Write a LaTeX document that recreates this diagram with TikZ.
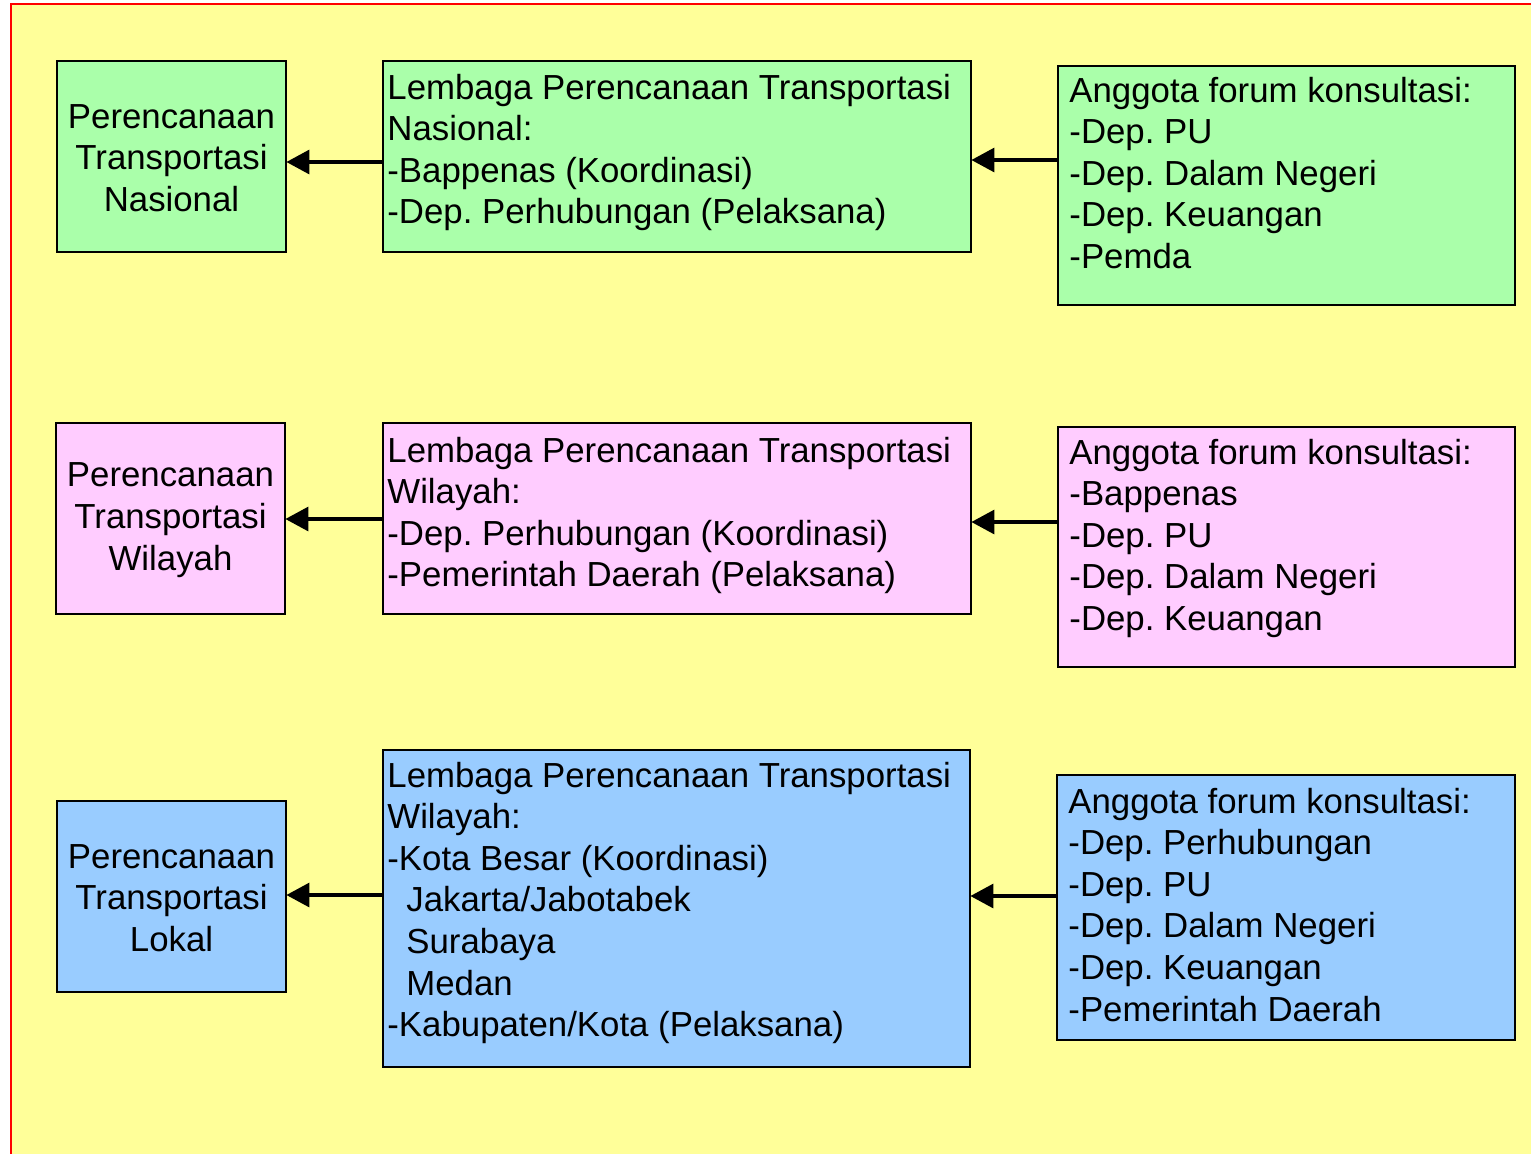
\documentclass[tikz,border=0pt]{standalone}
\usepackage{fontspec}
\setmainfont{Liberation Sans}
\usetikzlibrary{arrows.meta}
\frenchspacing
\definecolor{bgyellow}{HTML}{FFFF99}
\definecolor{bxgreen}{HTML}{AAFFAA}
\definecolor{bxpink}{HTML}{FFCCFF}
\definecolor{bxblue}{HTML}{99CCFF}
\tikzset{
  box/.style={draw=black, line width=1.2pt, inner sep=0pt},
  txt/.style={inner sep=0pt, align=left, anchor=north west, font=\fontsize{17.4pt}{20.8pt}\selectfont},
  ctxt/.style={inner sep=0pt, align=center, anchor=center, yshift=-0.8pt, font=\fontsize{17.4pt}{20.8pt}\selectfont},
  arr/.style={line width=1.6pt, -{Triangle[length=11.5pt,width=12pt]}}
}
\newcommand{\bx}[6]{% name, x1, y1, x2, y2, color
  \path[box, fill=#6] (#2,#3) rectangle (#4,#5);
  \node[inner sep=0pt, minimum width={(#4-#2)*0.5pt}, minimum height={(#5-#3)*0.5pt}] (#1) at ({(#2+#4)/2},{(#3+#5)/2}) {};
}
\begin{document}
\begin{tikzpicture}[x=0.5pt, y=-0.5pt]
\useasboundingbox (0,0) rectangle (1531,1153);
\fill[white] (0,0) rectangle (1531,1153);
\draw[red, line width=1.1pt, fill=bgyellow] (11,4) rectangle (1560,1180);

% row 1
\bx{a1}{57}{61}{286}{252}{bxgreen}
\bx{b1}{383}{61}{971}{252}{bxgreen}
\bx{c1}{1058}{66}{1515}{305}{bxgreen}
\node[ctxt] (ta1) at (a1) {Perencanaan\\Transportasi\\Nasional};
\node[txt] (tb1) at (387,73.5) {Lembaga Perencanaan Transportasi\\Nasional:\\-Bappenas (Koordinasi)\\-Dep. Perhubungan (Pelaksana)};
\node[txt] (tc1) at (1069,76.5) {Anggota forum konsultasi:\\-Dep. PU\\-Dep. Dalam Negeri\\-Dep. Keuangan\\-Pemda};

% row 2
\bx{a2}{56}{423}{285}{614}{bxpink}
\bx{b2}{383}{423}{971}{614}{bxpink}
\bx{c2}{1058}{427}{1515}{667}{bxpink}
\node[ctxt] (ta2) at (a2) {Perencanaan\\Transportasi\\Wilayah};
\node[txt] (tb2) at (387,436.5) {Lembaga Perencanaan Transportasi\\Wilayah:\\-Dep. Perhubungan (Koordinasi)\\-Pemerintah Daerah (Pelaksana)};
\node[txt] (tc2) at (1069,438.5) {Anggota forum konsultasi:\\-Bappenas\\-Dep. PU\\-Dep. Dalam Negeri\\-Dep. Keuangan};

% row 3
\bx{a3}{57}{801}{286}{992}{bxblue}
\bx{b3}{383}{750}{970}{1067}{bxblue}
\bx{c3}{1057}{775}{1515}{1040}{bxblue}
\node[ctxt] (ta3) at (a3) {Perencanaan\\Transportasi\\Lokal};
\node[txt] (tb3) at (387,761.5) {Lembaga Perencanaan Transportasi\\Wilayah:\\-Kota Besar (Koordinasi)\\\hspace*{9.5pt}Jakarta/Jabotabek\\\hspace*{9.5pt}Surabaya\\\hspace*{9.5pt}Medan\\-Kabupaten/Kota (Pelaksana)};
\node[txt] (tc3) at (1068,787.5) {Anggota forum konsultasi:\\-Dep. Perhubungan\\-Dep. PU\\-Dep. Dalam Negeri\\-Dep. Keuangan\\-Pemerintah Daerah};

% arrow levels
\coordinate (y1a) at (0,162);
\coordinate (y1b) at (0,160);
\coordinate (y2a) at (0,519);
\coordinate (y2b) at (0,522);
\coordinate (y3a) at (0,895);
\coordinate (y3b) at (0,896);

\draw[arr] (b1.west |- y1a) -- (a1.east |- y1a);
\draw[arr] (c1.west |- y1b) -- (b1.east |- y1b);
\draw[arr] (b2.west |- y2a) -- (a2.east |- y2a);
\draw[arr] (c2.west |- y2b) -- (b2.east |- y2b);
\draw[arr] (b3.west |- y3a) -- (a3.east |- y3a);
\draw[arr] (c3.west |- y3b) -- (b3.east |- y3b);
\end{tikzpicture}
\end{document}
